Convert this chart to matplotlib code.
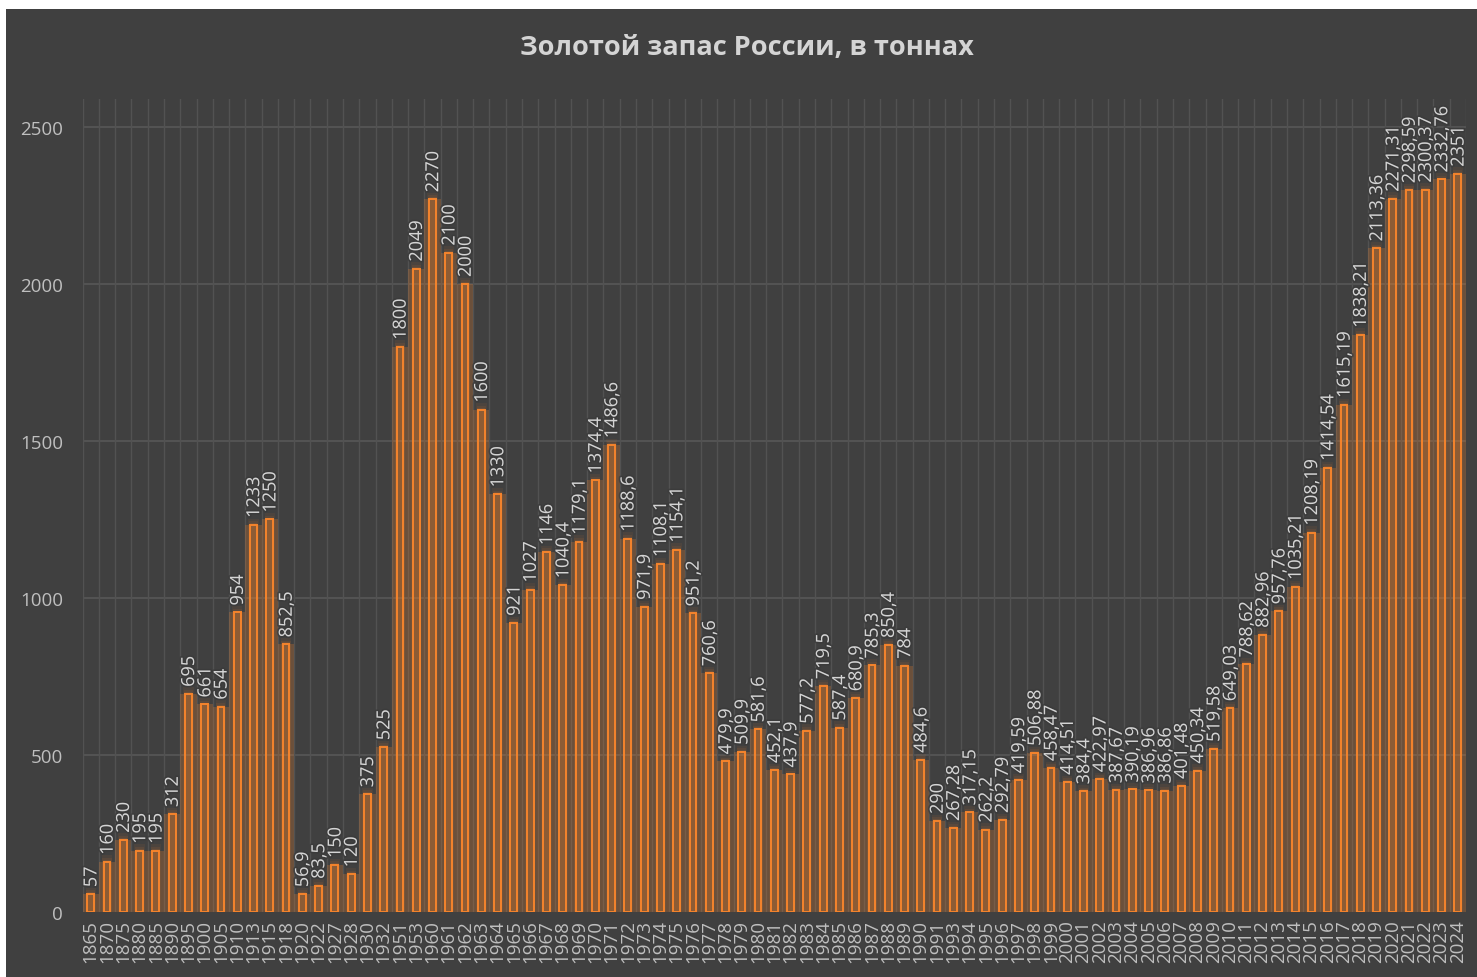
import matplotlib
matplotlib.use("Agg")
import matplotlib.pyplot as plt
import matplotlib.patheffects as pe
from matplotlib.patches import Rectangle

years = ['1865', '1870', '1875', '1880', '1885', '1890', '1895', '1900', '1905', '1910',
         '1913', '1915', '1918', '1920', '1922', '1927', '1928', '1930', '1932', '1951',
         '1953'] + [str(y) for y in range(1960, 1992)] + [str(y) for y in range(1993, 2025)]

reserves = [57, 160, 230, 195, 195, 312, 695, 661, 654, 954,
            1233, 1250, 852.5, 56.9, 83.5, 150, 120, 375, 525, 1800,
            2049, 2270, 2100, 2000, 1600, 1330, 921, 1027, 1146, 1040.4,
            1179.1, 1374.4, 1486.6, 1188.6, 971.9, 1108.1, 1154.1, 951.2, 760.6, 479.9,
            509.9, 581.6, 452.1, 437.9, 577.2, 719.5, 587.4, 680.9, 785.3, 850.4,
            784, 484.6, 290, 267.28, 317.15, 262.2, 292.79, 419.59, 506.88, 458.47,
            414.51, 384.4, 422.97, 387.67, 390.19, 386.96, 386.86, 401.48, 450.34, 519.58,
            649.03, 788.62, 882.96, 957.76, 1035.21, 1208.19, 1414.54, 1615.19, 1838.21, 2113.36,
            2271.31, 2298.59, 2300.37, 2332.76, 2351]

title = 'Золотой запас России, в тоннах'

BG = '#404040'
ORANGE = '#f5842c'
TEXT = '#d4d4d4'
TICK = '#bfbfbf'

plt.rcParams['font.family'] = ['Open Sans', 'DejaVu Sans']

W, H = 1477, 978
fig = plt.figure(figsize=(W / 100, H / 100), dpi=100, facecolor='white')
fig.add_artist(Rectangle((6 / W, 0), 1, (H - 10) / H, transform=fig.transFigure,
                         facecolor=BG, edgecolor='none', zorder=-5))

ax = fig.add_axes([82.6 / W, 65 / H, (1466 - 82.6) / W, 813 / H])
ax.set_facecolor(BG)

x = list(range(len(years)))

# grid
for yv in range(500, 2501, 500):
    ax.axhline(yv, color='#5a5a5a', lw=1.1, zorder=0.5)
for i in range(len(years) + 1):
    ax.axvline(i - 0.5, color='#525252', lw=1, zorder=0.5)

# glow under bars
ax.bar(x, reserves, width=1.0, color=ORANGE, alpha=0.24, lw=0, zorder=1)
for w, dh, a in [(0.64, 20, 0.07), (0.56, 12, 0.09), (0.49, 6, 0.12)]:
    ax.bar(x, [v + dh for v in reserves], width=w, color=ORANGE, alpha=a, lw=0, zorder=1)

ax.bar(x, reserves, width=0.42, facecolor='none', edgecolor=ORANGE, lw=1.4, zorder=2)

for i, v in enumerate(reserves):
    ax.annotate(f"{v:g}".replace('.', ','), (i, v), xytext=(0.5, 5), textcoords='offset points',
                rotation=90, ha='center', va='bottom', color=TEXT, fontsize=13, zorder=3,
                path_effects=[pe.withStroke(linewidth=2.5, foreground='#3a3a3a', alpha=0.7)])

ax.set_xlim(-0.5, len(years) - 0.5)
ax.set_ylim(0, 2589)
ax.set_xticks(x, years, rotation=90, fontsize=13.5, color=TICK)
ax.set_yticks(range(0, 2501, 500))
ax.tick_params(axis='y', length=0, pad=14, labelsize=13.5, labelcolor=TICK)
ax.tick_params(axis='x', length=0, pad=5)
for s in ax.spines.values():
    s.set_visible(False)

fig.text(0.506, 1 - 48 / H, title, ha='center', va='center', fontsize=19.5,
         fontweight='bold', color='#d4d4d4')

fig.savefig('out.png', dpi=100, facecolor=fig.get_facecolor())
